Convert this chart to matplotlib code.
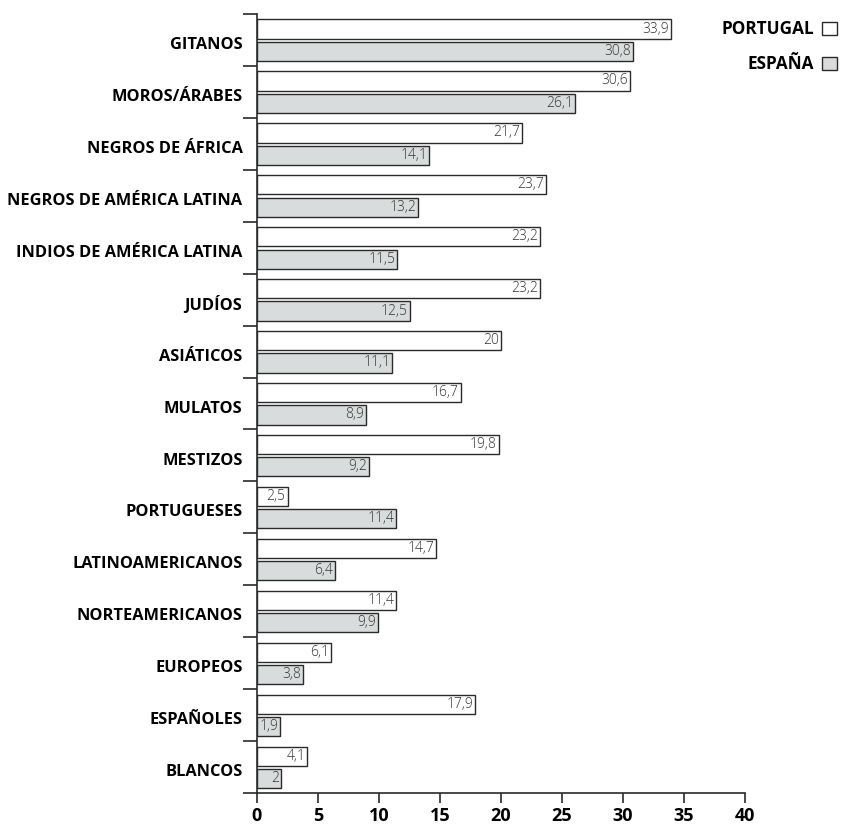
import matplotlib
matplotlib.use("Agg")
import matplotlib.pyplot as plt
from matplotlib.patches import Patch

categories = ["GITANOS", "MOROS/ÁRABES", "NEGROS DE ÁFRICA", "NEGROS DE AMÉRICA LATINA",
              "INDIOS DE AMÉRICA LATINA", "JUDÍOS", "ASIÁTICOS", "MULATOS", "MESTIZOS",
              "PORTUGUESES", "LATINOAMERICANOS", "NORTEAMERICANOS", "EUROPEOS",
              "ESPAÑOLES", "BLANCOS"]
portugal = [33.9, 30.6, 21.7, 23.7, 23.2, 23.2, 20, 16.7, 19.8, 2.5, 14.7, 11.4, 6.1, 17.9, 4.1]
espana = [30.8, 26.1, 14.1, 13.2, 11.5, 12.5, 11.1, 8.9, 9.2, 11.4, 6.4, 9.9, 3.8, 1.9, 2]
xticks = [0, 5, 10, 15, 20, 25, 30, 35, 40]

plt.rcParams['font.family'] = ['Open Sans', 'DejaVu Sans']

fig = plt.figure(figsize=(8.44, 8.26), dpi=100)
ax = fig.add_axes([257/844, 1-793/826, (745-257)/844, (793-14)/826])

n = len(categories)
ys = list(range(n))
h = 0.37
edge = '#2a2a2a'
gray = '#d9dcdc'
ax.barh([y - 0.21 for y in ys], portugal, height=h, color='white', edgecolor=edge, linewidth=1.0)
ax.barh([y + 0.22 for y in ys], espana, height=h, color=gray, edgecolor=edge, linewidth=1.0)

def fmt(v):
    return ('%g' % v).replace('.', ',')

for y, v in zip(ys, portugal):
    ax.text(v - 0.15, y - 0.21, fmt(v), ha='right', va='center', fontsize=10,
            color='#333333', fontweight='light')
for y, v in zip(ys, espana):
    ax.text(v - 0.15, y + 0.22, fmt(v), ha='right', va='center', fontsize=10,
            color='#333333', fontweight='light')

ax.set_xlim(0, 40)
ax.set_ylim(n - 0.5, -0.5)
ax.set_xticks(xticks)
ax.set_xticklabels([str(t) for t in xticks], fontsize=13, fontweight='bold')

ax.set_yticks([i - 0.5 for i in range(n + 1)])
ax.set_yticklabels([])
ax.set_yticks([y + 0.06 for y in ys], minor=True)
ax.set_yticklabels(categories, minor=True, fontsize=11.8, fontweight='bold')
ax.tick_params(axis='y', which='major', length=10, width=1.2, direction='out', color=edge)
ax.tick_params(axis='y', which='minor', length=0, pad=10.5)
ax.tick_params(axis='x', length=7, width=1.2, direction='out', color=edge, pad=3)

for s in ['top', 'right']:
    ax.spines[s].set_visible(False)
for s in ['left', 'bottom']:
    ax.spines[s].set_linewidth(1.2)
    ax.spines[s].set_color(edge)

handles = [Patch(facecolor='white', edgecolor=edge, linewidth=1.0),
           Patch(facecolor=gray, edgecolor=edge, linewidth=1.0)]
fig.legend(handles, ['PORTUGAL', 'ESPAÑA'], loc='upper right',
           bbox_to_anchor=(852/844, 1-5/826), frameon=False, markerfirst=False,
           handlelength=0.85, handleheight=0.85, handletextpad=0.45, labelspacing=1.0,
           prop={'weight': 'bold', 'size': 12.3, 'family': ['Open Sans', 'DejaVu Sans']},
           alignment='right')

fig.savefig('out.png', dpi=100)
